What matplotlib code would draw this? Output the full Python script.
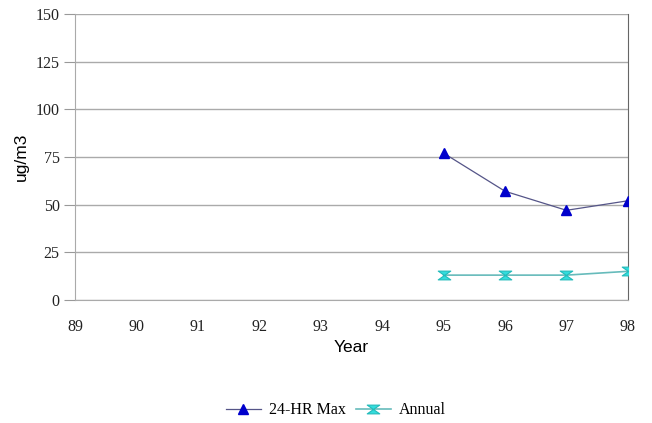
import matplotlib
matplotlib.use("Agg")
import matplotlib.pyplot as plt
from matplotlib.path import Path

years = ["89", "90", "91", "92", "93", "94", "95", "96", "97", "98"]
max_years = ["95", "96", "97", "98"]
max_24hr = [77, 57, 47, 52]
annual = [13, 13, 13, 15]
y_ticks = [0, 25, 50, 75, 100, 125, 150]

serif = "Liberation Serif"
sans = "Liberation Sans"

# hourglass marker like the old spreadsheet one
hourglass = Path([(-1, 0.7), (1, 0.7), (-1, -0.7), (1, -0.7), (-1, 0.7)],
                 [Path.MOVETO, Path.LINETO, Path.LINETO, Path.LINETO, Path.CLOSEPOLY])

fig = plt.figure(figsize=(6.52, 4.23), dpi=100)
ax = fig.add_axes([0.115, 0.291, 0.848, 0.676])

xpos = {y: i for i, y in enumerate(years)}
xs = [xpos[y] for y in max_years]

ax.plot(xs, max_24hr, color="#555588", lw=0.9, marker="^", ms=7,
        mfc="#0000cc", mec="#0000cc", label="24-HR Max", zorder=3)
ax.plot(xs, annual, color="#66bbbb", lw=1.2, marker=hourglass, ms=9,
        mfc="#33dddd", mec="#22bbbb", mew=0.8, label="Annual", zorder=3)

ax.set_xlim(0, len(years) - 1)
ax.set_ylim(0, 150)
ax.set_xticks(range(len(years)))
ax.set_xticklabels(years, fontfamily=serif, fontsize=11.5, color="#222222")
ax.set_yticks(y_ticks)
ax.set_yticklabels([str(v) for v in y_ticks], fontfamily=serif, fontsize=11.5,
                   color="#222222")
ax.tick_params(axis="y", length=8, color="#999999", pad=3)
ax.tick_params(axis="x", length=0, pad=14)
ax.grid(axis="y", color="#aaaaaa", lw=1)
ax.set_axisbelow(True)

for s in ["left", "bottom", "top"]:
    ax.spines[s].set_color("#aaaaaa")
ax.spines["top"].set_visible(False)
ax.spines["right"].set_color("#666666")

ax.set_xlabel("Year", fontfamily=sans, fontsize=12.5, labelpad=3)
ax.set_ylabel("ug/m3", fontfamily=sans, fontsize=12.5, labelpad=5)

fig.legend(loc="center", bbox_to_anchor=(0.515, 0.03), ncol=2, frameon=False,
           prop={"family": serif, "size": 11.5}, handlelength=2.2,
           columnspacing=0.6, handletextpad=0.5)

fig.savefig("out.png", dpi=100)
